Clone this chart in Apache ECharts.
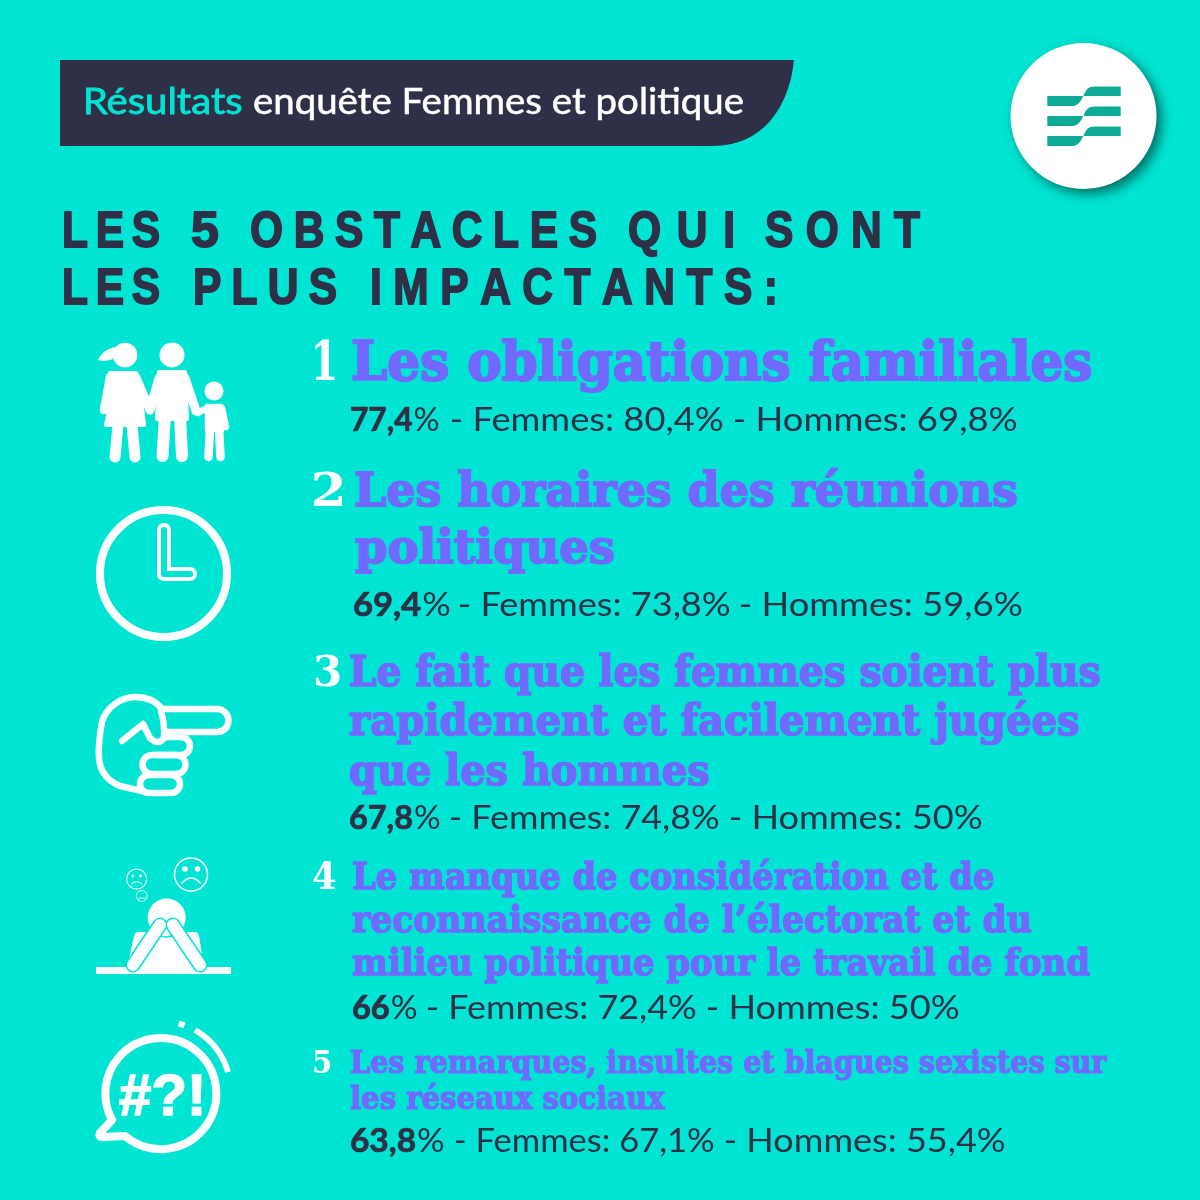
<!DOCTYPE html>
<html>
<head>
<meta charset="utf-8">
<title>Résultats enquête Femmes et politique</title>
<script src="https://cdn.jsdelivr.net/npm/echarts@6/dist/echarts.min.js"></script>
<style>
html, body { margin: 0; padding: 0; background: #00e5d3; }
#chart { width: 1200px; height: 1200px; }
</style>
</head>
<body>
<div id="chart"></div>
<script>
// texts and values
var bannerWords = ["Résultats", "enquête Femmes et politique"];
var headingLines = [["LES", "5", "OBSTACLES", "QUI", "SONT"], ["LES", "PLUS", "IMPACTANTS:"]];
var ranks = ["1", "2", "3", "4", "5"];
var obstacles = [
	["Les obligations familiales"],
	["Les horaires des réunions", "politiques"],
	["Le fait que les femmes soient plus", "rapidement et facilement jugées", "que les hommes"],
	["Le manque de considération et de", "reconnaissance de l’électorat et du", "milieu politique pour le travail de fond"],
	["Les remarques, insultes et blagues sexistes sur", "les réseaux sociaux"]
];
var totals = ["77,4", "69,4", "67,8", "66", "63,8"];
var femmes = ["80,4", "73,8", "74,8", "72,4", "67,1"];
var hommes = ["69,8", "59,6", "50", "50", "55,4"];

// layout
var headingBox = [
	[[62, 160], [192, 218], [250, 597], [628, 735], [765, 920]],
	[[62, 160], [193, 337], [370, 778]]
];
var headingBase = [247, 304];
var rankBox = [[315, 335, 380, 54], [314, 342, 506, 46], [315, 340, 686, 42], [313, 336, 889, 37], [314, 331, 1073, 31]];
var titleBox = [
	[[353, 1091, 380, 54]],
	[[356, 1017, 506, 46], [356, 614, 563, 46]],
	[[350, 1099, 686, 42], [350, 1078, 735, 42], [350, 708, 785, 42]],
	[[353, 993, 889, 37], [353, 1031, 932, 37], [353, 1089, 975, 37]],
	[[351, 1107, 1073, 31], [351, 665, 1109, 31]]
];
// total, femmes and hommes parts of each stat line, then baseline
var statBox = [
	[351, 439, 452, 723, 735, 1017, 431],
	[354, 450, 460, 730, 741, 1022, 616],
	[350, 440, 451, 719, 731, 982, 829],
	[353, 417, 428, 696, 708, 959, 1019],
	[351, 444, 456, 714, 726, 1005, 1152]
];

var TEAL = "#00e5d3";
var DARK = "#2f3047";
var VIOLET = "#7068ff";
var WHITE = "#ffffff";
var SERIF = "DejaVu Serif";
var SANS = "Lato";

var ctx = document.createElement("canvas").getContext("2d");
ctx.textBaseline = "middle";

// text squeezed so its ink runs from left to right, sitting on the baseline
function fit(text, left, right, baseline, font, fill, strokeW) {
	ctx.font = font;
	var m = ctx.measureText(text);
	var ink = m.actualBoundingBoxLeft + m.actualBoundingBoxRight;
	var sx = (right - left) / ink;
	var style = { text: text, font: font, fill: fill, align: "left", verticalAlign: "middle" };
	if (strokeW) {
		style.stroke = fill;
		style.lineWidth = strokeW;
	}
	var h = ctx.measureText("H");
	return {
		type: "text",
		x: left + m.actualBoundingBoxLeft * sx,
		y: baseline - h.actualBoundingBoxDescent,
		scaleX: sx,
		style: style
	};
}

// letter spaced word, one text element per letter
function spaced(text, left, right, baseline, font, fill, sx) {
	ctx.font = font;
	var chars = text.split("");
	if (chars.length == 1) return [fit(text, left, right, baseline, font, fill, 1.8)];
	var out = [];
	var sum = 0;
	chars.forEach(function(c) { sum += ctx.measureText(c).width * sx; });
	var gap = (right - left - sum) / (chars.length - 1);
	var x = left;
	var down = ctx.measureText("H").actualBoundingBoxDescent;
	chars.forEach(function(c) {
		out.push({
			type: "text", x: x, y: baseline - down, scaleX: sx,
			style: { text: c, font: font, fill: fill, stroke: fill, lineWidth: 1.8, align: "left", verticalAlign: "middle" }
		});
		x += ctx.measureText(c).width * sx + gap;
	});
	return out;
}

function line(x1, y1, x2, y2, w, color) {
	return {
		type: "line", shape: { x1: x1, y1: y1, x2: x2, y2: y2 },
		style: { stroke: color || WHITE, lineWidth: w, lineCap: "round", fill: null }
	};
}
function disc(x, y, r, color) {
	return { type: "circle", shape: { cx: x, cy: y, r: r }, style: { fill: color || WHITE } };
}
function ring(x, y, r, w) {
	return { type: "circle", shape: { cx: x, cy: y, r: r }, style: { fill: null, stroke: WHITE, lineWidth: w } };
}
function fillPath(d, color) {
	return { type: "path", shape: { pathData: d }, style: { fill: color || WHITE } };
}
function strokePath(d, w, color) {
	return {
		type: "path", shape: { pathData: d },
		style: { fill: null, stroke: color || WHITE, lineWidth: w, lineCap: "round", lineJoin: "round" }
	};
}

function banner() {
	var els = [fillPath("M60 60 H794 C790 100 768 146 712 146 H60 Z", DARK)];
	els.push(fit(bannerWords[0], 86, 242, 114, "36px " + SANS, TEAL, 0.8));
	els.push(fit(bannerWords[1], 254, 743, 114, "36px " + SANS, WHITE, 0.5));
	return els;
}

function logo() {
	var els = [{
		type: "circle", shape: { cx: 1083.5, cy: 116, r: 73 },
		style: { fill: WHITE, shadowBlur: 12, shadowColor: "rgba(0,90,80,0.85)", shadowOffsetX: 5, shadowOffsetY: 5 }
	}];
	for (var i = 0; i < 3; i++) {
		var y = 86.5 + i * 20;
		els.push(fillPath("M1120.7 " + y + " H1095 C1088 " + y + " 1086 " + (y + 3) + " 1083.3 " + (y + 9.5) + " H1120.7 Z", "#0dab95"));
		els.push(fillPath("M1047.3 " + (y + 9.5) + " H1083.3 C1080 " + (y + 17) + " 1076.7 " + (y + 19.5) + " 1071.7 " + (y + 19.5) + " H1047.3 Z", "#0dab95"));
	}
	return els;
}

function family() {
	return [
		disc(125, 355, 12.3),
		fillPath("M116 347 C108 348 101 353 98 360 C104 362 113 360 118 356 Z"),
		strokePath("M110 373 H136 L141 398 L144 425 H106 L112 398 Z", 4),
		fillPath("M110 373 H136 L141 398 L144 425 H106 L112 398 Z"),
		line(110, 377, 104, 410, 8.5),
		line(136, 377, 150, 410, 8.5),
		line(118, 425, 115, 457, 11),
		line(132, 425, 135, 457, 11),
		disc(172, 355, 12.5),
		strokePath("M159 372 H185 L187 419 H157 Z", 4),
		fillPath("M159 372 H185 L187 419 H157 Z"),
		line(165, 415, 162.5, 456, 12),
		line(180, 415, 182, 456, 12),
		line(159, 378, 150, 410, 9),
		line(185, 378, 196, 411, 9),
		line(195, 412, 203, 410, 5.5),
		disc(214, 391, 9.5),
		strokePath("M207 406 H221 L222 430 H207 Z", 4.5),
		fillPath("M207 406 H221 L222 430 H207 Z"),
		line(210, 428, 208.5, 457, 8.5),
		line(219, 428, 220.5, 457, 8.5),
		line(222, 408, 226, 427, 6.5),
		line(207, 408, 198, 413, 6.5)
	];
}

function clock() {
	return [
		ring(163.5, 573.5, 63.5, 8),
		strokePath("M164 530 V574 H190", 14),
		strokePath("M164 530 V574 H190", 6, TEAL)
	];
}

function hand() {
	var w = 6.5;
	return [
		strokePath("M162 709 H217 A11.5 11.5 0 0 1 217 732 H167", w),
		strokePath("M162 709 C157 702 148 697 135 697 C120 697 106 708 102 722 C100 733 98 745 99 758 C100 772 108 781 120 786 L142 791", w),
		strokePath("M122 741 L143 724 L150 738 Q158 746 164 738 Q165 725 161 711", w),
		strokePath("M165 737 H181 A9 9 0 0 1 181 755 H156", w),
		strokePath("M152 755 H176 A9.5 9.5 0 0 1 176 774 H152 A9.5 9.5 0 0 1 152 755 Z", w),
		strokePath("M149 775 H171 A9 9 0 0 1 171 793 H149 A9 9 0 0 1 149 775 Z", w)
	];
}

function person() {
	return [
		ring(191, 874.5, 16.5, 1.5),
		disc(185, 869, 2.8), disc(197.5, 869, 2.8),
		strokePath("M182 883 Q191 873 200.5 883", 1.5),
		ring(136.7, 879, 10, 1.1),
		disc(132.8, 876, 1.4), disc(140.6, 876, 1.4),
		strokePath("M131.5 884 Q136.7 879 142 884", 1),
		ring(141.7, 896, 5.5, 0.9),
		strokePath("M138.5 898 H145", 0.8),
		{ type: "rect", shape: { x: 96, y: 967, width: 135, height: 7 }, style: { fill: WHITE } },
		disc(166.7, 917.5, 19),
		fillPath("M138 932 H195 Q198 932 199 936 L204 968 H127 L134 936 Q135 932 138 932 Z"),
		strokePath("M157 934 Q166 940 176 934", 1.5, TEAL),
		line(133, 965, 160, 925, 15, TEAL),
		line(200, 965, 173, 925, 15, TEAL),
		line(133, 965, 160, 925, 12),
		line(200, 965, 173, 925, 12)
	];
}

function bubble() {
	var els = [
		strokePath("M112 1120 L100 1133 Q98 1137 103 1137 L125 1136 A55.5 55.5 0 1 0 112 1120", 8),
		{
			type: "path", shape: { pathData: "M195 1030 A72 72 0 0 1 228 1072" },
			style: { fill: null, stroke: WHITE, lineWidth: 6, lineCap: "butt" }
		},
		{
			type: "path", shape: { pathData: "M178.6 1023.7 A72 72 0 0 1 184.5 1025.5" },
			style: { fill: null, stroke: WHITE, lineWidth: 6, lineCap: "butt" }
		}
	];
	els.push(fit("#?!", 119, 201, 1115, "bold 58px 'Liberation Sans'", WHITE, 1.5));
	return els;
}

function renderAll() {
	var kids = [];
	kids = kids.concat(banner(), logo());
	headingLines.forEach(function(words, n) {
		words.forEach(function(word, k) {
			var box = headingBox[n][k];
			kids = kids.concat(spaced(word, box[0], box[1], headingBase[n], "bold 50px 'Liberation Sans'", DARK, 0.85));
		});
	});
	kids = kids.concat(family(), clock(), hand(), person(), bubble());

	obstacles.forEach(function(lines, i) {
		var r = rankBox[i];
		kids.push(fit(ranks[i], r[0], r[1], r[2], "bold " + r[3] + "px '" + SERIF + "'", WHITE));
		lines.forEach(function(t, j) {
			var b = titleBox[i][j];
			kids.push(fit(t, b[0], b[1], b[2], "bold " + b[3] + "px '" + SERIF + "'", VIOLET, b[3] * 0.04));
		});
		var s = statBox[i];
		var boldFont = "bold 32px " + SANS;
		var thinFont = "32px " + SANS;
		ctx.font = boldFont;
		var w1 = ctx.measureText(totals[i]).width;
		ctx.font = thinFont;
		var w2 = ctx.measureText("%").width;
		var sx = (s[1] - s[0]) / (w1 + w2);
		var head = fit(totals[i], s[0], s[0] + w1 * sx, s[6], boldFont, DARK, 0.7);
		head.scaleX = sx;
		kids.push(head);
		kids.push(fit("%", s[0] + w1 * sx + 1, s[1], s[6], thinFont, DARK));
		kids.push(fit("- Femmes: " + femmes[i] + "%", s[2], s[3], s[6], thinFont, DARK));
		kids.push(fit("- Hommes: " + hommes[i] + "%", s[4], s[5], s[6], thinFont, DARK));
	});
	return { type: "group", children: kids };
}

var chart = echarts.init(document.getElementById("chart"));
chart.setOption({
	backgroundColor: TEAL,
	animation: false,
	series: [{
		type: "custom",
		coordinateSystem: "none",
		silent: true,
		data: [0],
		renderItem: renderAll
	}]
});
</script>
</body>
</html>
